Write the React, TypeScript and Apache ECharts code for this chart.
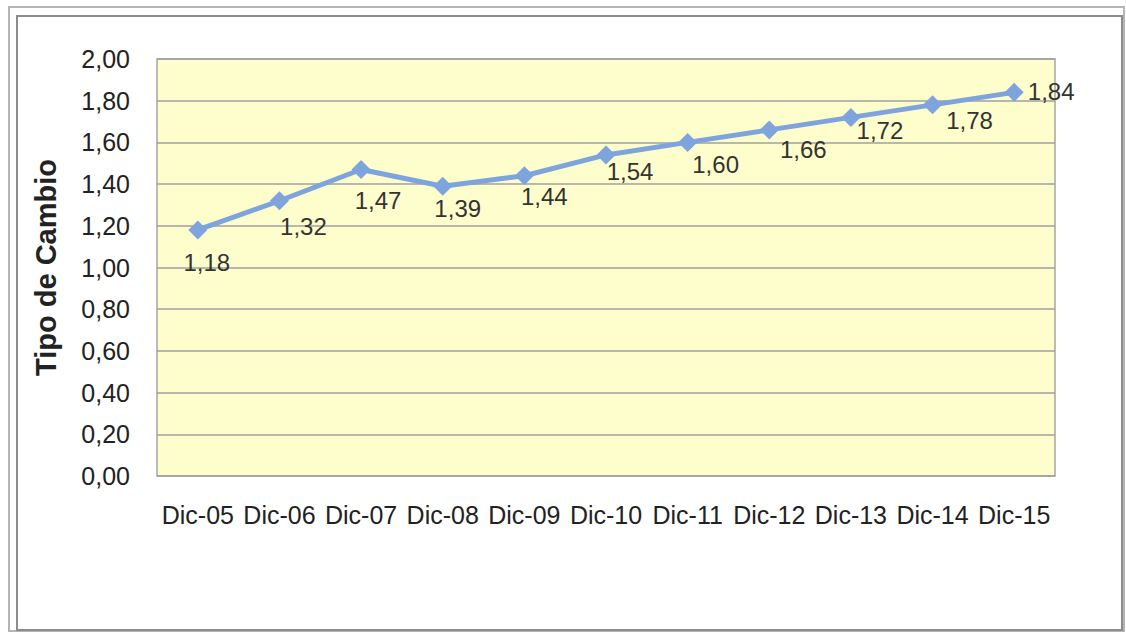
import React, { useEffect, useRef } from "react";
import * as echarts from "echarts";

// Exchange rate at each December close
const categories = ["Dic-05", "Dic-06", "Dic-07", "Dic-08", "Dic-09", "Dic-10", "Dic-11", "Dic-12", "Dic-13", "Dic-14", "Dic-15"];
const tipoDeCambio = [1.18, 1.32, 1.47, 1.39, 1.44, 1.54, 1.6, 1.66, 1.72, 1.78, 1.84];
const yTicks = { min: 0, max: 2, interval: 0.2 };

// Where each value label sits relative to its marker (px)
const labelShift: [number, number][] = [
  [9, 33], [24, 26], [17, 31], [15, 22], [20, 21], [24, 17],
  [28, 22], [34, 20], [29, 13], [37, 16], [37, -1],
];

const fmt = (v: number) => v.toFixed(2).replace(".", ",");
const FONT = "'Liberation Sans', Arial, sans-serif";

export default function App() {
  const ref = useRef<HTMLDivElement>(null);

  useEffect(() => {
    if (!ref.current) return;
    const chart = echarts.init(ref.current, undefined, { renderer: "svg" });

    chart.setOption({
      animation: false,
      backgroundColor: "#ffffff",
      textStyle: { fontFamily: FONT },
      graphic: [
        {
          type: "rect",
          shape: { x: 9, y: 7, width: 1115, height: 624 },
          style: { fill: "none", stroke: "#b4b4b4", lineWidth: 2 },
          silent: true,
        },
        {
          type: "rect",
          shape: { x: 17, y: 16, width: 1105, height: 614 },
          style: { fill: "none", stroke: "#8c8c8c", lineWidth: 2 },
          silent: true,
        },
      ],
      grid: {
        left: 157,
        top: 59,
        width: 898,
        height: 417,
        show: true,
        backgroundColor: "#fefecd",
        borderColor: "#a6a6a6",
        borderWidth: 1.5,
      },
      xAxis: {
        type: "category",
        data: categories,
        boundaryGap: true,
        axisLine: { show: false },
        axisTick: { show: false },
        axisLabel: {
          color: "#222222",
          fontSize: 25,
          fontFamily: FONT,
          margin: 26,
          interval: 0,
        },
        splitLine: { show: false },
      },
      yAxis: {
        type: "value",
        min: yTicks.min,
        max: yTicks.max,
        interval: yTicks.interval,
        name: "Tipo de Cambio",
        nameLocation: "middle",
        nameRotate: 90,
        nameGap: 97,
        nameTextStyle: {
          color: "#222222",
          fontSize: 29,
          fontWeight: "bold",
          fontFamily: FONT,
        },
        axisLine: { show: false },
        axisTick: { show: false },
        axisLabel: {
          color: "#222222",
          fontSize: 25,
          fontFamily: FONT,
          margin: 27,
          formatter: (v: number) => fmt(v),
        },
        splitLine: { show: true, lineStyle: { color: "#9f9f9f", width: 1.5 } },
      },
      series: [
        {
          type: "line",
          data: tipoDeCambio.map((v, i) => ({
            value: v,
            label: { offset: labelShift[i] },
          })),
          symbol: "diamond",
          symbolSize: 19,
          lineStyle: { color: "#7ea4de", width: 5 },
          itemStyle: { color: "#7ea4de" },
          label: {
            show: true,
            position: "inside",
            color: "#333333",
            fontSize: 24,
            fontFamily: FONT,
            formatter: (p: any) => fmt(p.value),
          },
        },
      ],
    });

    return () => chart.dispose();
  }, []);

  return (
    <div
      ref={ref}
      style={{ position: "fixed", left: 0, top: 0, width: 1126, height: 634 }}
    />
  );
}
